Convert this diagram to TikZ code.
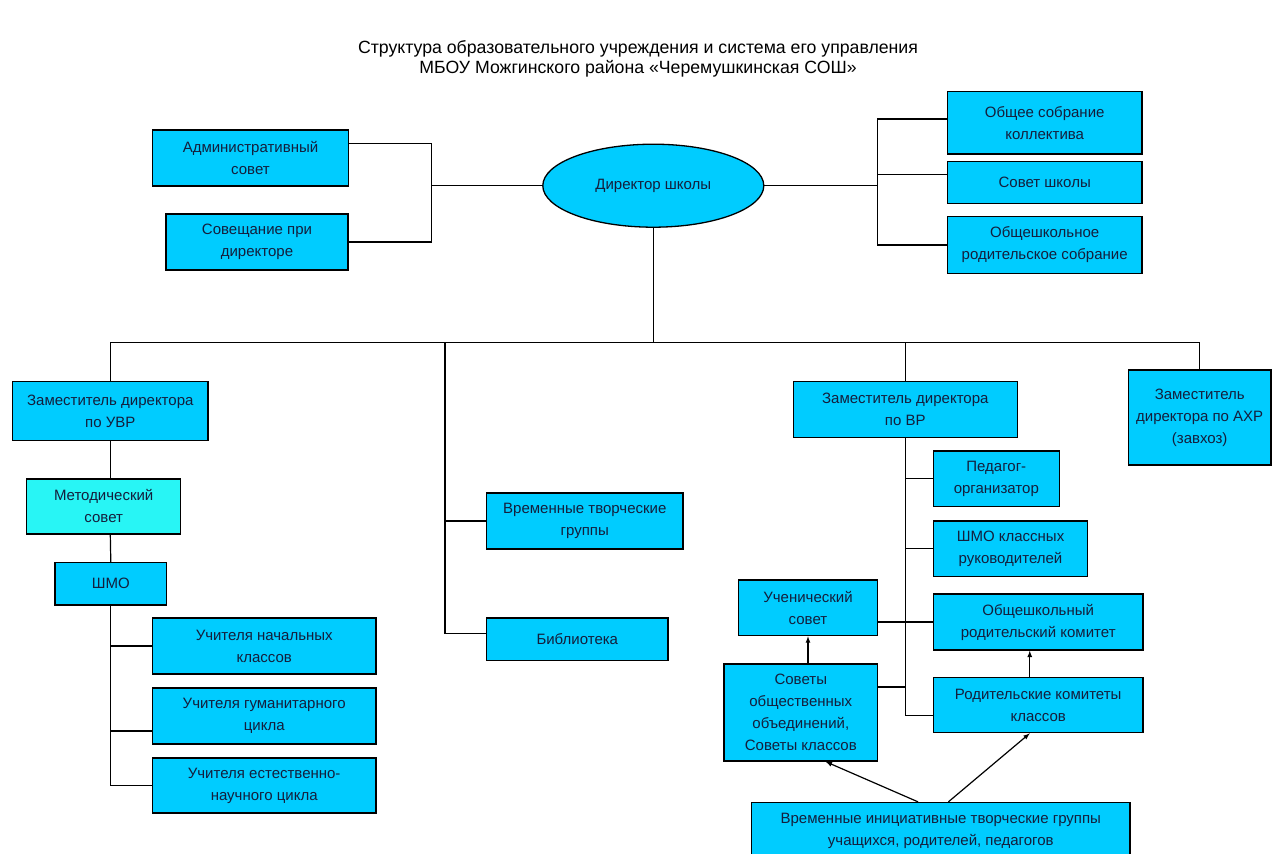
\documentclass[tikz,border=0pt]{standalone}
\usepackage{fontspec}
\setmainfont{Liberation Sans}
\usetikzlibrary{calc, shapes.geometric}
\definecolor{unitblue}{RGB}{0,204,255}
\definecolor{metodblue}{RGB}{40,245,245}
\definecolor{inkblue}{RGB}{20,30,60}

\begin{document}
\begin{tikzpicture}[x=1pt, y=-1pt,
                    unit/.style={draw, line width=1.3pt, fill=unitblue, text=inkblue, align=center, inner sep=0pt, font=\fontsize{15}{22}\selectfont},
                    link/.style={line width=1.2pt},
                    link arrow/.style={link, -latex}]
  \path[fill=white, use as bounding box] (0,0) rectangle (1275,854);

  \node[align=center, font=\fontsize{17.7}{20}\selectfont] (title) at (638,58.5) {Структура образовательного учреждения и система его управления\\МБОУ Можгинского района «Черемушкинская СОШ»};

  \node[unit, ellipse, minimum width=221pt, minimum height=83pt] (dir) at (653.3,185.7) {Директор школы};
  \node[unit, minimum width=195.6pt, minimum height=56pt] (adm) at (250.5,158) {Административный\\совет};
  \node[unit, minimum width=182pt, minimum height=56pt] (meet) at (257,242) {Совещание при\\директоре};
  \node[unit, minimum width=194.7pt, minimum height=62.3pt] (gen) at (1044.7,122.8) {Общее собрание\\коллектива};
  \node[unit, minimum width=194.7pt, minimum height=41.6pt] (council) at (1044.7,182.5) {Совет школы};
  \node[unit, minimum width=194.7pt, minimum height=56.6pt] (parmeet) at (1044.7,245) {Общешкольное\\родительское собрание};

  \node[unit, minimum width=195.3pt, minimum height=59pt] (uvr) at (110.3,411.2) {Заместитель директора\\по УВР};
  \node[unit, fill=metodblue, minimum width=154pt, minimum height=55pt] (metod) at (103.7,506.5) {Методический\\совет};
  \node[unit, minimum width=111.7pt, minimum height=42.3pt] (shmo) at (110.8,583.8) {ШМО};
  \node[unit, minimum width=223.7pt, minimum height=56pt] (prim) at (264.2,646) {Учителя начальных\\классов};
  \node[unit, minimum width=223.7pt, minimum height=56pt] (hum) at (264.2,716) {Учителя гуманитарного\\цикла};
  \node[unit, minimum width=223.7pt, minimum height=55pt] (sci) at (264.2,785.5) {Учителя естественно-\\научного цикла};

  \node[unit, minimum width=196.3pt, minimum height=56pt] (tmp) at (584.8,521) {Временные творческие\\группы};
  \node[unit, minimum width=181.3pt, minimum height=42.7pt] (lib) at (577.3,639.3) {Библиотека};

  \node[unit, minimum width=224pt, minimum height=55.6pt] (vr) at (905.3,409.5) {Заместитель директора\\по ВР};
  \node[unit, minimum width=142.7pt, minimum height=95pt] (ahr) at (1199.7,417.5) {Заместитель\\директора по АХР\\(завхоз)};
  \node[unit, minimum width=126pt, minimum height=55.7pt] (org) at (996.3,478.8) {Педагог-\\организатор};
  \node[unit, minimum width=154.4pt, minimum height=55.7pt] (shmok) at (1010.5,548.8) {ШМО классных\\руководителей};
  \node[unit, minimum width=139.4pt, minimum height=55.7pt] (pupil) at (808,607.8) {Ученический\\совет};
  \node[unit, minimum width=209.7pt, minimum height=56pt] (parcom) at (1038.2,622) {Общешкольный\\родительский комитет};
  \node[unit, minimum width=153.7pt, minimum height=97pt] (socs) at (800.8,712.5) {Советы\\общественных\\объединений,\\Советы классов};
  \node[unit, minimum width=209.7pt, minimum height=55.4pt] (clcom) at (1038.2,705) {Родительские комитеты\\классов};
  \node[unit, minimum width=378.3pt, minimum height=57pt] (init) at (940.8,831) {Временные инициативные творческие группы\\учащихся, родителей, педагогов};

  \coordinate (lbr) at (431.7,185.7);
  \coordinate (rbr) at (877.3,185.7);
  \coordinate (bus) at (655,342.7);
  \coordinate (libx) at (445,342.7);

  \draw[link] ($(adm.north east)!0.25!(adm.south east)$) -| (lbr) |- (meet.east);
  \draw[link] (lbr) -- (dir.west);
  \draw[link] (dir.east) -- (rbr);
  \draw[link] ($(gen.north west)!0.44!(gen.south west)$) -| (rbr) |- (parmeet.west);
  \coordinate (counw) at ($(council.north west)!0.32!(council.south west)$);
  \draw[link] (counw) -- (counw -| rbr);

  \draw[link] (dir.south) -- (dir.south |- bus);
  \draw[link] (uvr.north) -- (uvr.north |- bus) -- (ahr.north |- bus) -- (ahr.north);
  \draw[link] (vr.north) -- (vr.north |- bus);

  \draw[link] (uvr.south) -- (uvr.south |- metod.north);
  \draw[link] (uvr.south |- metod.south) -- (shmo.north);
  \draw[link] (shmo.south) |- (sci.west);
  \draw[link] (shmo.south |- prim.west) -- (prim.west);
  \coordinate (humw) at ($(hum.north west)!0.76!(hum.south west)$);
  \draw[link] (shmo.south |- humw) -- (humw);

  \coordinate (libw) at ($(lib.north west)!0.36!(lib.south west)$);
  \draw[link] (libx) |- (libw);
  \draw[link] (libx |- tmp.west) -- (tmp.west);

  \coordinate (clw) at ($(clcom.north west)!0.68!(clcom.south west)$);
  \draw[link] (vr.south) |- (clw);
  \draw[link] (vr.south |- org.west) -- (org.west);
  \draw[link] (vr.south |- shmok.west) -- (shmok.west);
  \draw[link] (pupil.east |- parcom.west) -- (parcom.west);
  \coordinate (soce) at ($(socs.north east)!0.24!(socs.south east)$);
  \draw[link] (soce) -- (soce -| vr.south);

  \draw[link arrow] (pupil.south |- socs.north) -- (pupil.south);
  \coordinate (clup) at ($(clcom.north west)!0.46!(clcom.north east)$);
  \draw[link arrow] (clup) -- (clup |- parcom.south);
  \draw[link arrow] ($(init.north west)!0.44!(init.north east)$) -- ($(socs.south west)!0.66!(socs.south east)$);
  \draw[link arrow] ($(init.north west)!0.52!(init.north east)$) -- ($(clcom.south west)!0.46!(clcom.south east)$);
\end{tikzpicture}
\end{document}
